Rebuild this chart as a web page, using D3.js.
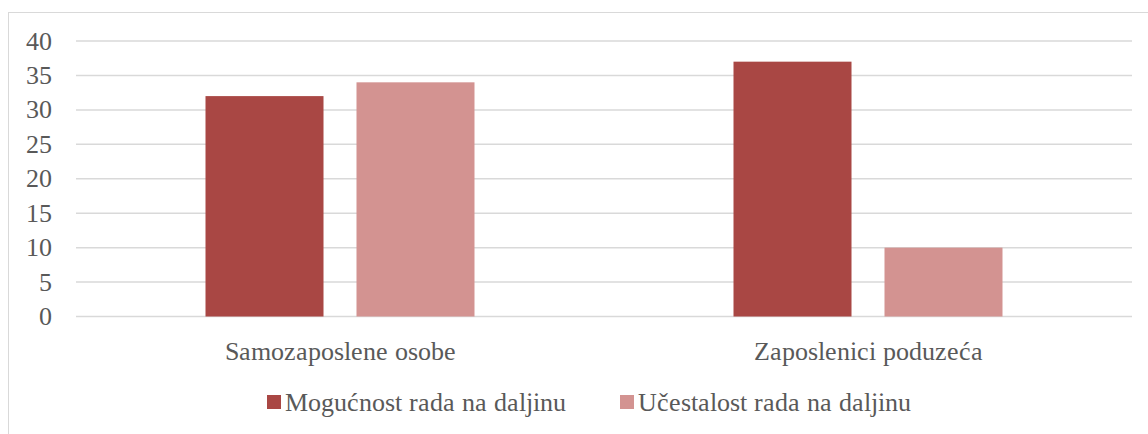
<!DOCTYPE html>
<html>
<head>
<meta charset="utf-8">
<script src="https://cdn.jsdelivr.net/npm/d3@7"></script>
<style>
  @font-face {
    font-family: "ChartSerif";
    src: local("Liberation Serif"), local("LiberationSerif"), local("LiberationSerif-Regular"),
         local("Tinos"), local("Tinos-Regular"), local("Times New Roman");
  }
</style>
</head>
<body style="margin:0">
<svg id="chart" width="1148" height="434"></svg>
<script>
const CATEGORIES = ["Samozaposlene osobe", "Zaposlenici poduzeća"];
const SERIES = ["Mogućnost rada na daljinu", "Učestalost rada na daljinu"];
const MOGUCNOST = [32, 37];
const UCESTALOST = [34, 10];
const Y_TICKS = [0, 5, 10, 15, 20, 25, 30, 35, 40];
const COLORS = ["#a94744", "#d39391"];

const WIDTH = 1148;
const HEIGHT = 434;
const LEFT = 76, RIGHT = 1132, TOP = 41, BOTTOM = 316.5;
const FONT_SIZE = "26px";
const TEXT_COLOR = "#595959";

// small helper so every label gets the same serif look
function label(sel){
    return sel
        .attr("font-size", FONT_SIZE)
        .style("font-family", "'ChartSerif', 'Liberation Serif', Tinos, serif")
        .style("fill", TEXT_COLOR);
}

function setupChart(){
    let svg = d3.select("#chart");

    // outer chart frame
    svg.append("rect")
        .attr("x", 8.5).attr("y", 12.5)
        .attr("width", 1150).attr("height", 440)
        .attr("fill", "none")
        .attr("stroke", "#d9d9d9");

    let yScale = d3.scaleLinear().domain([0, 40]).range([BOTTOM, TOP]);
    let xScale = d3.scaleBand().domain(CATEGORIES).range([LEFT, RIGHT]);
    // bars sit inside each category band with a small gap between them
    let inner = d3.scaleBand().domain(SERIES)
        .range([129.5, xScale.bandwidth() - 129.5])
        .paddingInner(0.2185);

    // gridlines
    svg.selectAll("line.grid")
        .data(Y_TICKS)
        .enter()
        .append("line")
        .attr("x1", LEFT).attr("x2", RIGHT)
        .attr("y1", d => yScale(d)).attr("y2", d => yScale(d))
        .attr("stroke", "#d9d9d9")
        .attr("stroke-width", 1.5);

    // y labels
    label(svg.selectAll("text.ytick")
        .data(Y_TICKS)
        .enter()
        .append("text")
        .text(d => d)
        .attr("x", 52)
        .attr("y", d => yScale(d))
        .attr("dy", "0.33em"))
        .style("text-anchor", "end");

    let rows = [];
    CATEGORIES.forEach(function(c, i){
        rows.push({ cat: c, s: SERIES[0], v: MOGUCNOST[i], k: 0 });
        rows.push({ cat: c, s: SERIES[1], v: UCESTALOST[i], k: 1 });
    });

    svg.selectAll("rect.bar")
        .data(rows)
        .enter()
        .append("rect")
        .attr("x", d => xScale(d.cat) + inner(d.s))
        .attr("y", d => yScale(d.v))
        .attr("width", inner.bandwidth())
        .attr("height", d => yScale(0) - yScale(d.v))
        .style("fill", d => COLORS[d.k]);

    // category labels
    label(svg.selectAll("text.cat")
        .data(CATEGORIES)
        .enter()
        .append("text")
        .text(d => d)
        .attr("x", d => xScale(d) + xScale.bandwidth() / 2)
        .attr("y", 360))
        .style("text-anchor", "middle");

    // legend
    let legendX = [267, 620];
    SERIES.forEach(function(s, i){
        svg.append("rect")
            .attr("x", legendX[i]).attr("y", 395)
            .attr("width", 14).attr("height", 14)
            .style("fill", COLORS[i]);
        label(svg.append("text")
            .text(s)
            .attr("x", legendX[i] + 18)
            .attr("y", 411));
    });
}

setupChart();
</script>
</body>
</html>
